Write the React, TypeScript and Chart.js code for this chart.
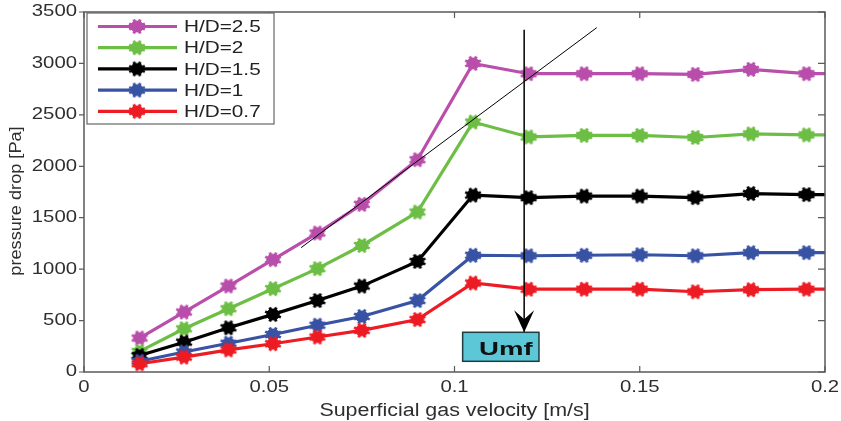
import React, { useEffect, useRef } from 'react';
import { Chart, registerables } from 'chart.js';
Chart.register(...registerables);

// ---- data ----
const xValues = [0.015, 0.027, 0.039, 0.051, 0.063, 0.075, 0.09, 0.105, 0.12, 0.135, 0.15, 0.165, 0.18, 0.195, 0.21];
const hd25 = [330, 583, 836, 1092, 1351, 1630, 2064, 3000, 2900, 2900, 2900, 2893, 2942, 2900, 2900];
const hd2 = [200, 420, 615, 810, 1005, 1230, 1555, 2430, 2285, 2300, 2300, 2280, 2315, 2305, 2305];
const hd15 = [160, 290, 430, 560, 695, 835, 1075, 1720, 1695, 1710, 1710, 1695, 1735, 1725, 1725];
const hd1 = [105, 195, 280, 365, 455, 540, 695, 1135, 1130, 1135, 1140, 1130, 1160, 1160, 1160];
const hd07 = [80, 145, 215, 275, 340, 405, 510, 865, 805, 805, 805, 780, 800, 805, 805];

const seriesLabels = ['H/D=2.5', 'H/D=2', 'H/D=1.5', 'H/D=1', 'H/D=0.7'];
const seriesValues = [hd25, hd2, hd15, hd1, hd07];
const seriesColors = ['#B94EAB', '#6DBE45', '#000000', '#3953A4', '#ED1C24'];

const tangentX = [0.0586, 0.1384];
const tangentY = [1209, 3348];
const umfX = 0.1188;
const arrowY = [3328, 386];
const umfBoxX = [0.1022, 0.1228];
const umfBoxY = [104, 386];
const umfLabel = 'Umf';

const xTicks = [0, 0.05, 0.1, 0.15, 0.2];
const xTickLabels = ['0', '0.05', '0.1', '0.15', '0.2'];
const yTicks = [0, 500, 1000, 1500, 2000, 2500, 3000, 3500];
const yTickLabels = ['0', '500', '1000', '1500', '2000', '2500', '3000', '3500'];
const xTitle = 'Superficial gas velocity [m/s]';
const yTitle = 'pressure drop [Pa]';

const FONT = '"Liberation Sans", Arial, Helvetica, sans-serif';

function makeMarker(color: string) {
  const c = document.createElement('canvas');
  c.width = 20;
  c.height = 17;
  const g = c.getContext('2d')!;
  g.translate(10, 8.5);
  g.scale(1.12, 1);
  g.fillStyle = color;
  g.strokeStyle = color;
  g.beginPath();
  g.arc(0, 0, 6, 0, Math.PI * 2);
  g.fill();
  g.lineWidth = 2.6;
  g.lineCap = 'butt';
  for (let i = 0; i < 8; i++) {
    const a = (i * Math.PI) / 4 + Math.PI / 8;
    g.beginPath();
    g.moveTo(0, 0);
    g.lineTo(Math.cos(a) * 7.6, Math.sin(a) * 7.6);
    g.stroke();
  }
  return c;
}

function text(ctx: CanvasRenderingContext2D, s: string, x: number, y: number, font: string, align: CanvasTextAlign, base: CanvasTextBaseline, sx: number, color: string) {
  ctx.save();
  ctx.translate(x, y);
  ctx.scale(sx, 1);
  ctx.font = font;
  ctx.textAlign = align;
  ctx.textBaseline = base;
  ctx.fillStyle = color;
  ctx.fillText(s, 0, 0);
  ctx.restore();
}

export default function App() {
  const ref = useRef<HTMLCanvasElement>(null);
  useEffect(() => {
    const markers = seriesColors.map(makeMarker);
    const seriesSets = seriesLabels.map((label, i) => ({
      label,
      data: xValues.map((x, j) => ({ x, y: seriesValues[i][j] })),
      borderColor: seriesColors[i],
      backgroundColor: seriesColors[i],
      borderWidth: 3.2,
      pointStyle: markers[i] as any,
      pointRadius: 8,
      tension: 0,
    }));
    const tangent = {
      label: 'tangent',
      data: tangentX.map((x, j) => ({ x, y: tangentY[j] })),
      borderColor: '#000',
      borderWidth: 1,
      pointRadius: 0,
    };
    const arrow = {
      label: 'arrow',
      data: arrowY.map((y) => ({ x: umfX, y })),
      borderColor: '#000',
      borderWidth: 1.5,
      pointRadius: 0,
    };
    // index 0 drawn on top
    const datasets = [tangent, arrow, ...seriesSets.slice().reverse()];

    const decor = {
      id: 'decor',
      afterDatasetsDraw(chart: any) {
        const ctx: CanvasRenderingContext2D = chart.ctx;
        const xs = chart.scales.x;
        const ys = chart.scales.y;
        const a = chart.chartArea;
        const axisColor = '#5a5a5a';
        const textColor = '#2e2e2e';

        // arrow head
        const ax = xs.getPixelForValue(umfX);
        const tipY = ys.getPixelForValue(arrowY[1]);
        ctx.save();
        ctx.fillStyle = '#000';
        ctx.beginPath();
        ctx.moveTo(ax, tipY);
        ctx.lineTo(ax - 10, tipY - 22);
        ctx.lineTo(ax, tipY - 13);
        ctx.lineTo(ax + 10, tipY - 22);
        ctx.closePath();
        ctx.fill();
        ctx.restore();

        // Umf box
        const bx0 = xs.getPixelForValue(umfBoxX[0]);
        const bx1 = xs.getPixelForValue(umfBoxX[1]);
        const by0 = ys.getPixelForValue(umfBoxY[1]);
        const by1 = ys.getPixelForValue(umfBoxY[0]);
        ctx.save();
        ctx.fillStyle = '#5CC8D7';
        ctx.fillRect(bx0, by0, bx1 - bx0, by1 - by0);
        ctx.strokeStyle = '#1d3b40';
        ctx.lineWidth = 1.5;
        ctx.strokeRect(bx0, by0, bx1 - bx0, by1 - by0);
        ctx.restore();
        text(ctx, umfLabel, (bx0 + bx1) / 2 + 5, by1 - 6, 'bold 19px ' + FONT, 'center', 'alphabetic', 1.45, '#111');

        // axes box
        ctx.save();
        ctx.strokeStyle = axisColor;
        ctx.lineWidth = 1.5;
        ctx.strokeRect(a.left, a.top, a.right - a.left, a.bottom - a.top);
        ctx.lineWidth = 1.2;
        ctx.beginPath();
        xTicks.forEach((t) => {
          const px = xs.getPixelForValue(t);
          ctx.moveTo(px, a.bottom);
          ctx.lineTo(px, a.bottom - 6);
          ctx.moveTo(px, a.top);
          ctx.lineTo(px, a.top + 6);
        });
        yTicks.forEach((t) => {
          const py = ys.getPixelForValue(t);
          ctx.moveTo(a.left, py);
          ctx.lineTo(a.left - 5, py);
          ctx.moveTo(a.right, py);
          ctx.lineTo(a.right - 7, py);
        });
        ctx.stroke();
        ctx.restore();

        // tick labels
        xTicks.forEach((t, i) => {
          text(ctx, xTickLabels[i], xs.getPixelForValue(t), a.bottom + 20, '16px ' + FONT, 'center', 'alphabetic', 1.27, textColor);
        });
        yTicks.forEach((t, i) => {
          text(ctx, yTickLabels[i], a.left - 7, ys.getPixelForValue(t), '16px ' + FONT, 'right', 'middle', 1.27, textColor);
        });

        // titles
        text(ctx, xTitle, (a.left + a.right) / 2, a.bottom + 44, '18px ' + FONT, 'center', 'alphabetic', 1.19, textColor);
        ctx.save();
        ctx.translate(16, (a.top + a.bottom) / 2 + 9);
        ctx.rotate(-Math.PI / 2);
        ctx.scale(1.1, 1);
        ctx.font = '16.5px ' + FONT;
        ctx.textAlign = 'center';
        ctx.textBaseline = 'middle';
        ctx.fillStyle = textColor;
        ctx.fillText(yTitle, 0, 0);
        ctx.restore();

        // legend
        const lx0 = a.left + 3;
        const lx1 = a.left + 190;
        const ly0 = a.top + 1;
        const ly1 = a.top + 112;
        ctx.save();
        ctx.fillStyle = '#fff';
        ctx.fillRect(lx0, ly0, lx1 - lx0, ly1 - ly0);
        ctx.strokeStyle = '#666';
        ctx.lineWidth = 1.2;
        ctx.strokeRect(lx0, ly0, lx1 - lx0, ly1 - ly0);
        seriesLabels.forEach((lab, i) => {
          const y = ly0 + 13.5 + i * 21.2;
          ctx.strokeStyle = seriesColors[i];
          ctx.lineWidth = 3.2;
          ctx.beginPath();
          ctx.moveTo(lx0 + 11, y);
          ctx.lineTo(lx0 + 90, y);
          ctx.stroke();
          const m = markers[i];
          ctx.drawImage(m, lx0 + 50 - m.width / 2, y - m.height / 2);
          text(ctx, lab, lx0 + 97, y + 1, '17px ' + FONT, 'left', 'middle', 1.22, '#222');
        });
        ctx.restore();
      },
    };

    const chart = new Chart(ref.current!, {
      type: 'line',
      data: { datasets: datasets as any },
      options: {
        responsive: false,
        animation: false,
        devicePixelRatio: 1,
        layout: { padding: { left: 84, right: 16, top: 12, bottom: 49 } },
        plugins: { legend: { display: false }, tooltip: { enabled: false } },
        scales: {
          x: { type: 'linear', min: 0, max: 0.2, display: false },
          y: { type: 'linear', min: 0, max: 3500, display: false },
        },
      },
      plugins: [decor],
    });
    return () => chart.destroy();
  }, []);
  return (
    <div style={{ position: 'fixed', left: 0, top: 0, width: 841, height: 421, background: '#fff' }}>
      <canvas ref={ref} width={841} height={421} style={{ width: 841, height: 421 }} />
    </div>
  );
}
